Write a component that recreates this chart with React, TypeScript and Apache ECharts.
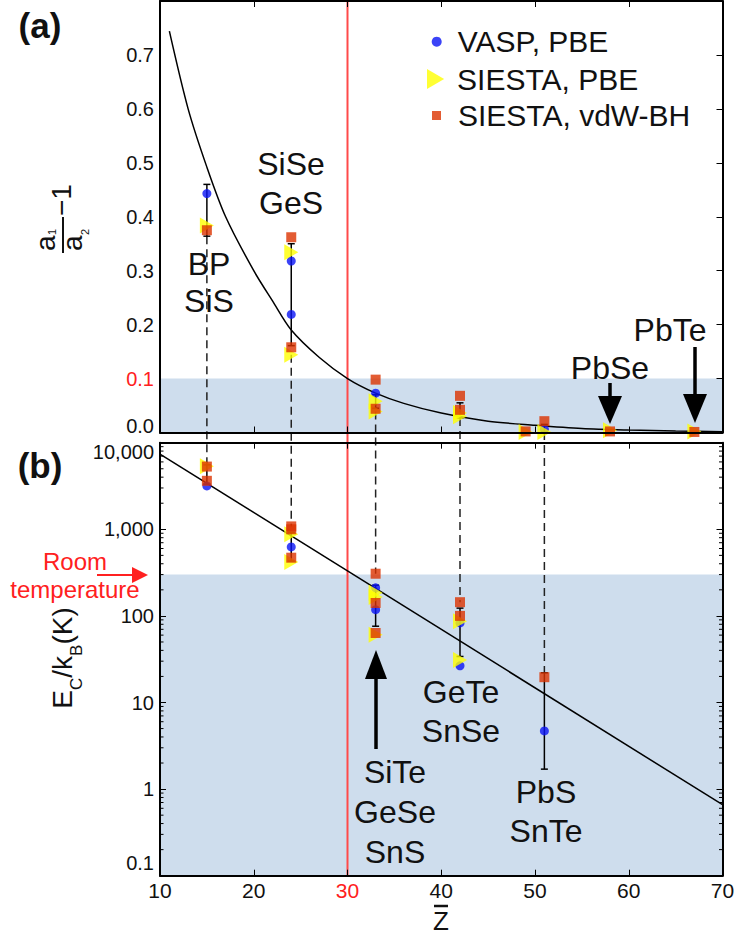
import React, { useEffect, useRef } from 'react';
import * as echarts from 'echarts';

const FONT = '"Liberation Sans", Arial, Helvetica, sans-serif';
const RED = '#ff2020';
const RED_LINE = '#ff4a4a';
const BAND = '#cedded';
const BLUE = '#0a14f5';
const YELLOW = '#ffff00';
const ORANGE_RED = '#dc3300';
const INK = '#111111';

// axes
const X_MIN = 10;
const X_MAX = 70;
const X_STEP = 10;
const A_Y_MIN = 0;
const A_Y_MAX = 0.8;
const A_Y_STEP = 0.1;
const B_Y_MIN = 0.1;
const B_Y_MAX = 10000;
const LOG_DECADES = [0.1, 1, 10, 100, 1000];
const MINOR_MULT = [2, 3, 4, 5, 6, 7, 8, 9];

// thresholds
const Z_CRITICAL = 30;
const A_THRESHOLD = 0.1;
const ROOM_TEMPERATURE = 300;

// panel (a): a1/a2 - 1
const A_VASP = [[15, 0.443], [24, 0.318], [24, 0.219], [33, 0.073], [51, 0.006]];
const A_SIESTA_PBE = [[15, 0.384], [24, 0.334], [24, 0.144], [33, 0.058], [33, 0.039], [42, 0.036], [42, 0.030], [49, 0.001], [51, 0.001], [58, 0.004], [67, 0.002]];
const A_SIESTA_VDW = [[15, 0.375], [24, 0.362], [24, 0.158], [33, 0.098], [33, 0.044], [42, 0.068], [42, 0.042], [49, 0.002], [51, 0.021], [58, 0.002], [67, 0.001]];
const A_ERR = [[15, 0.364, 0.46], [24, 0.161, 0.35], [33, 0.045, 0.07], [42, 0.027, 0.055], [51, 0.002, 0.015]];
const A_FIT_Z = [11, 13, 15, 17, 20, 22, 24, 27, 30, 33, 36, 40, 45, 50, 55, 60, 65, 70];
const A_FIT_V = [0.744, 0.600, 0.492, 0.400, 0.300, 0.244, 0.190, 0.139, 0.100, 0.073, 0.054, 0.036, 0.021, 0.0135, 0.0074, 0.0045, 0.0027, 0.0016];

// panel (b): Ec/kB (K)
const B_VASP = [[15, 3170], [24, 626], [33, 211], [33, 118], [42, 83], [42, 26.5], [51, 4.7]];
const B_SIESTA_PBE = [[15, 5350], [24, 877], [24, 418], [33, 185], [33, 165], [33, 60.5], [42, 87], [42, 31]];
const B_SIESTA_VDW = [[15, 5300], [15, 3630], [24, 1080], [24, 1000], [24, 470], [33, 307], [33, 141], [33, 63.5], [42, 144], [42, 100], [51, 19.6]];
const B_ERR = [[15, 3320, 5550], [24, 430, 918], [33, 76, 226], [42, 34, 123], [51, 1.7, 22]];
const B_FIT_Z = [10, 70];
const B_FIT_V = [7400, 0.66];

// dashed connectors between the panels
const DROP_Z = [15, 24, 33, 42, 51];
const DROP_TOP = [0.364, 0.144, 0.039, 0.027, 0.001];
const DROP_BOTTOM = [5550, 1080, 307, 144, 22];

const SERIES_NAMES = ['VASP, PBE', 'SIESTA, PBE', 'SIESTA, vdW-BH'];
const TRI = 'path://M0,0L12,7L0,14Z';

const MINOR_TICKS: number[] = [];
LOG_DECADES.forEach((d) => MINOR_MULT.forEach((m) => MINOR_TICKS.push(+(d * m).toPrecision(3))));

const errorRender = (params: any, api: any) => {
  const x = api.value(0);
  const lo = api.coord([x, api.value(1)]);
  const hi = api.coord([x, api.value(2)]);
  const c = 3.5;
  const style = { stroke: '#000', lineWidth: 1.5 };
  return {
    type: 'group',
    children: [
      { type: 'line', shape: { x1: lo[0], y1: lo[1], x2: hi[0], y2: hi[1] }, style },
      { type: 'line', shape: { x1: lo[0] - c, y1: lo[1], x2: lo[0] + c, y2: lo[1] }, style },
      { type: 'line', shape: { x1: hi[0] - c, y1: hi[1], x2: hi[0] + c, y2: hi[1] }, style },
    ],
  };
};

const minorRender = (params: any, api: any) => {
  const p = api.coord([X_MIN, api.value(1)]);
  const cs = params.coordSys;
  const style = { stroke: '#000', lineWidth: 1 };
  return {
    type: 'group',
    children: [
      { type: 'line', shape: { x1: cs.x, y1: p[1], x2: cs.x + 3.5, y2: p[1] }, style },
      { type: 'line', shape: { x1: cs.x + cs.width - 3.5, y1: p[1], x2: cs.x + cs.width, y2: p[1] }, style },
    ],
  };
};

const axisLine = { show: true, onZero: false, lineStyle: { color: '#000', width: 2 } };
const tick = (len: number) => ({ show: true, inside: true, length: len, lineStyle: { color: '#000', width: 1 } });

const xAxis = (gridIndex: number, position: string, labels: boolean) => ({
  type: 'value',
  gridIndex,
  position,
  min: X_MIN,
  max: X_MAX,
  interval: X_STEP,
  z: 10,
  axisLine,
  axisTick: tick(6),
  splitLine: { show: false },
  axisLabel: labels
    ? {
        show: true,
        margin: 4,
        fontSize: 21,
        fontFamily: FONT,
        color: (v: any) => (Number(v) === Z_CRITICAL ? RED : INK),
      }
    : { show: false },
});

const scatter = (name: string, data: number[][], xi: number, yi: number) => {
  const base: any = {
    type: 'scatter',
    name,
    data,
    xAxisIndex: xi,
    yAxisIndex: yi,
    clip: false,
    z: 9,
    silent: true,
  };
  if (name === SERIES_NAMES[0]) {
    base.symbol = 'circle';
    base.symbolSize = 9;
    base.itemStyle = { color: BLUE };
  } else if (name === SERIES_NAMES[1]) {
    base.symbol = TRI;
    base.symbolSize = [14, 16];
    base.itemStyle = { color: YELLOW };
  } else {
    base.symbol = 'rect';
    base.symbolSize = 10;
    base.itemStyle = { color: ORANGE_RED };
  }
  return base;
};

const legendText = (pad: number) => ({ fontSize: 30, fontFamily: FONT, color: INK, padding: [0, 0, 0, pad] });

const txt = (text: string, x: number, y: number, extra: any = {}) => ({
  type: 'text',
  x,
  y,
  z: 12,
  style: {
    text,
    fontSize: 32,
    fontFamily: FONT,
    fill: INK,
    align: 'center',
    verticalAlign: 'middle',
    ...extra,
  },
});

const sub = (text: string, x: number, y: number, size: number, extra: any = {}) => ({
  type: 'text',
  x,
  y,
  style: { text, fontSize: size, fontFamily: FONT, fill: INK, align: 'left', verticalAlign: 'middle', ...extra },
});

const STATIC_GRAPHIC: any[] = [
  txt('(a)', 40, 25, { fontWeight: 'bold', fontSize: 35 }),
  txt('(b)', 40, 465, { fontWeight: 'bold', fontSize: 35 }),
  txt('BP\nSiS', 209, 282.5, { lineHeight: 37 }),
  txt('SiSe\nGeS', 291, 183.5, { lineHeight: 39 }),
  txt('PbSe', 610, 368),
  txt('PbTe', 670, 330),
  txt('SiTe\nGeSe\nSnS', 395, 812, { lineHeight: 40 }),
  txt('GeTe\nSnSe', 461, 711.5, { lineHeight: 39 }),
  txt('PbS\nSnTe', 546, 811.5, { lineHeight: 39 }),
  // arrows
  { type: 'line', z: 12, shape: { x1: 610, y1: 383, x2: 610, y2: 400 }, style: { stroke: '#000', lineWidth: 3.5 } },
  { type: 'polygon', z: 12, shape: { points: [[598, 396], [622, 396], [610, 424]] }, style: { fill: '#000' } },
  { type: 'line', z: 12, shape: { x1: 695, y1: 347, x2: 695, y2: 398 }, style: { stroke: '#000', lineWidth: 3.5 } },
  { type: 'polygon', z: 12, shape: { points: [[683, 394], [707, 394], [695, 423]] }, style: { fill: '#000' } },
  { type: 'line', z: 12, shape: { x1: 376, y1: 676, x2: 376, y2: 749 }, style: { stroke: '#000', lineWidth: 3.5 } },
  { type: 'polygon', z: 12, shape: { points: [[365, 679], [387, 679], [376, 650]] }, style: { fill: '#000' } },
  // room temperature
  txt('Room', 75, 561, { fontSize: 24, fill: RED }),
  txt('temperature', 75, 589, { fontSize: 24, fill: RED }),
  { type: 'line', z: 12, shape: { x1: 97, y1: 575, x2: 136, y2: 575 }, style: { stroke: RED, lineWidth: 2 } },
  { type: 'polygon', z: 12, shape: { points: [[132, 567], [148, 575], [132, 583]] }, style: { fill: RED } },
  // x axis title Z-bar
  txt('Z', 441, 921, { fontSize: 26 }),
  { type: 'line', z: 12, shape: { x1: 434, y1: 906, x2: 448, y2: 906 }, style: { stroke: INK, lineWidth: 2.5 } },
  // y title (a): a1/a2 - 1
  {
    type: 'group',
    x: 63,
    y: 253,
    rotation: Math.PI / 2,
    z: 12,
    children: [
      { type: 'line', shape: { x1: 0, y1: 0, x2: 36, y2: 0 }, style: { stroke: INK, lineWidth: 2 } },
      sub('a', 2, -17.7, 28),
      sub('1', 18, -11.5, 11),
      sub('a', 2, 9.3, 28),
      sub('2', 18, 22, 11),
      sub('\u22121', 37, -1.5, 28),
    ],
  },
  // y title (b): Ec/kB(K)
  {
    type: 'group',
    x: 62,
    y: 708.7,
    rotation: Math.PI / 2,
    z: 12,
    children: [
      sub('E', 0, 0, 28),
      sub('C', 18.7, 14, 17),
      sub('/', 31, 0, 28),
      sub('k', 38.8, 0, 28),
      sub('B', 52.8, 14, 17),
      sub('(K)', 64.1, 0, 28),
    ],
  },
];

const labelRich = {
  lo: { fontSize: 20, fontFamily: FONT, color: INK, padding: [0, 0, 14, 0] },
  hi: { fontSize: 20, fontFamily: FONT, color: INK, padding: [18, 0, 0, 0] },
  lo2: { fontSize: 20, fontFamily: FONT, color: INK, padding: [0, 0, 26, 0] },
  r: { fontSize: 20, fontFamily: FONT, color: RED },
};

export default function App() {
  const ref = useRef<HTMLDivElement>(null);

  useEffect(() => {
    if (!ref.current) return;
    const chart = echarts.init(ref.current, null, { renderer: 'svg' });
    const option: any = {
      animation: false,
      backgroundColor: '#ffffff',
      textStyle: { fontFamily: FONT },
      grid: [
        { left: 160, top: 1, width: 562.5, height: 431.5, outerBoundsMode: 'none', containLabel: false },
        { left: 160, top: 442.7, width: 562.5, height: 433, outerBoundsMode: 'none', containLabel: false },
      ],
      legend: [
        {
          data: [SERIES_NAMES[0]], left: 431.7, top: 26.7, icon: 'circle', itemWidth: 10, itemHeight: 10,
          padding: 0, selectedMode: false, textStyle: legendText(11),
        },
        {
          data: [SERIES_NAMES[1]], left: 427, top: 64, icon: TRI, itemWidth: 19, itemHeight: 20,
          padding: 0, selectedMode: false, textStyle: legendText(7),
        },
        {
          data: [SERIES_NAMES[2]], left: 432, top: 100.5, icon: 'rect', itemWidth: 9, itemHeight: 9,
          padding: 0, selectedMode: false, textStyle: legendText(12),
        },
      ],
      xAxis: [xAxis(0, 'bottom', false), xAxis(0, 'top', false), xAxis(1, 'bottom', true), xAxis(1, 'top', false)],
      yAxis: [
        {
          type: 'value', gridIndex: 0, position: 'left', min: A_Y_MIN, max: A_Y_MAX, interval: A_Y_STEP, z: 10,
          axisLine, axisTick: { show: false }, splitLine: { show: false },
          axisLabel: {
            show: true, margin: 6, fontSize: 20, fontFamily: FONT, showMaxLabel: false, color: INK,
            formatter: (v: number) => {
              if (Math.abs(v - A_Y_MIN) < 1e-9) return '{lo|' + v.toFixed(1) + '}';
              if (Math.abs(v - A_THRESHOLD) < 1e-9) return '{r|' + v.toFixed(1) + '}';
              return v.toFixed(1);
            },
            rich: labelRich,
          },
        },
        {
          type: 'value', gridIndex: 0, position: 'right', min: A_Y_MIN, max: A_Y_MAX, interval: A_Y_STEP, z: 10,
          axisLine, axisTick: tick(6), splitLine: { show: false }, axisLabel: { show: false },
        },
        {
          type: 'log', logBase: 10, gridIndex: 1, position: 'left', min: B_Y_MIN, max: B_Y_MAX, z: 10,
          axisLine, axisTick: tick(6), splitLine: { show: false }, minorTick: { show: false },
          axisLabel: {
            show: true, margin: 6, fontSize: 20, fontFamily: FONT, color: INK,
            formatter: (v: number) => {
              const s = v >= 1000 ? Math.round(v).toLocaleString('en-US') : String(v);
              if (v >= B_Y_MAX * 0.999) return '{hi|' + s + '}';
              if (v <= B_Y_MIN * 1.001) return '{lo2|' + s + '}';
              return s;
            },
            rich: labelRich,
          },
        },
        {
          type: 'log', logBase: 10, gridIndex: 1, position: 'right', min: B_Y_MIN, max: B_Y_MAX, z: 10,
          axisLine, axisTick: tick(6), splitLine: { show: false }, axisLabel: { show: false },
        },
      ],
      series: [
        {
          type: 'line', name: 'fit-a', xAxisIndex: 0, yAxisIndex: 0, z: 5, silent: true,
          data: A_FIT_Z.map((z, i) => [z, A_FIT_V[i]]), smooth: 0.3, symbol: 'none',
          lineStyle: { color: '#000', width: 1.5 },
          markArea: {
            silent: true, z: 1, label: { show: false }, itemStyle: { color: BAND },
            data: [[{ yAxis: A_Y_MIN }, { yAxis: A_THRESHOLD }]],
          },
        },
        {
          type: 'custom', name: 'err-a', xAxisIndex: 0, yAxisIndex: 0, z: 8, silent: true,
          renderItem: errorRender, data: A_ERR, encode: { x: 0, y: [1, 2] },
        },
        scatter(SERIES_NAMES[0], A_VASP, 0, 0),
        scatter(SERIES_NAMES[1], A_SIESTA_PBE, 0, 0),
        scatter(SERIES_NAMES[2], A_SIESTA_VDW, 0, 0),
        {
          type: 'line', name: 'fit-b', xAxisIndex: 2, yAxisIndex: 2, z: 5, silent: true,
          data: B_FIT_Z.map((z, i) => [z, B_FIT_V[i]]), symbol: 'none',
          lineStyle: { color: '#000', width: 1.5 },
          markArea: {
            silent: true, z: 1, label: { show: false }, itemStyle: { color: BAND },
            data: [[{ yAxis: B_Y_MIN }, { yAxis: ROOM_TEMPERATURE }]],
          },
        },
        {
          type: 'custom', name: 'minor-b', xAxisIndex: 2, yAxisIndex: 2, z: 10, silent: true,
          renderItem: minorRender, data: MINOR_TICKS.map((v) => [X_MIN, v]), encode: { x: 0, y: 1 },
        },
        {
          type: 'custom', name: 'err-b', xAxisIndex: 2, yAxisIndex: 2, z: 8, silent: true,
          renderItem: errorRender, data: B_ERR, encode: { x: 0, y: [1, 2] },
        },
        scatter(SERIES_NAMES[0], B_VASP, 2, 2),
        scatter(SERIES_NAMES[1], B_SIESTA_PBE, 2, 2),
        scatter(SERIES_NAMES[2], B_SIESTA_VDW, 2, 2),
      ],
    };
    chart.setOption(option);

    const dyn: any[] = [];
    DROP_Z.forEach((z, i) => {
      const p1 = chart.convertToPixel({ xAxisIndex: 0, yAxisIndex: 0 } as any, [z, DROP_TOP[i]]) as any;
      const p2 = chart.convertToPixel({ xAxisIndex: 2, yAxisIndex: 2 } as any, [z, DROP_BOTTOM[i]]) as any;
      if (p1 && p2) {
        dyn.push({
          type: 'line', z: 3, silent: true,
          shape: { x1: p1[0], y1: p1[1], x2: p2[0], y2: p2[1] },
          style: { stroke: '#222', lineWidth: 1.5, lineDash: [8, 5] },
        });
      }
    });
    const r1 = chart.convertToPixel({ xAxisIndex: 0, yAxisIndex: 0 } as any, [Z_CRITICAL, A_Y_MAX]) as any;
    const r2 = chart.convertToPixel({ xAxisIndex: 2, yAxisIndex: 2 } as any, [Z_CRITICAL, B_Y_MIN]) as any;
    if (r1 && r2) {
      dyn.push({
        type: 'line', z: 4, silent: true,
        shape: { x1: r1[0], y1: r1[1], x2: r2[0], y2: r2[1] },
        style: { stroke: RED_LINE, lineWidth: 2 },
      });
    }
    chart.setOption({ graphic: { elements: [...STATIC_GRAPHIC, ...dyn] } });

    return () => chart.dispose();
  }, []);

  return (
    <div
      ref={ref}
      style={{ position: 'fixed', left: 0, top: 0, width: 738, height: 941, background: '#fff' }}
    />
  );
}
